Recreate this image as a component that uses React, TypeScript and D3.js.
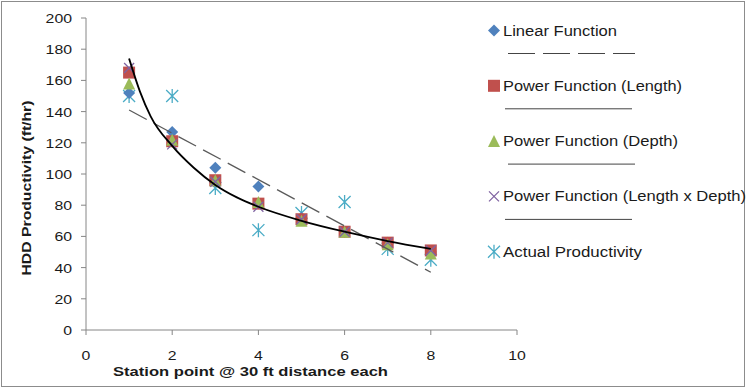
import React from "react";
import * as d3 from "d3";

const stations = [1, 2, 3, 4, 5, 6, 7, 8];
const linearFn = [152, 127, 104, 92, 72, 63, 56, 50];
const powerLength = [165, 121, 96, 81, 71, 63, 56, 51];
const powerDepth = [158, 122, 96, 82, 70, 63, 55, 49];
const powerLxD = [168, 119, 95, 79, 71, 63, 56, 51];
const actual = [150, 150, 91, 64, 75, 82, 52, 45];

const linearTrendX = [1, 8];
const linearTrendY = [141, 37];
const powerTrendX = [1, 1.25, 1.5, 2, 2.5, 3, 3.5, 4, 5, 6, 7, 8];
const powerTrendY = [174, 153, 137, 118, 104, 93, 85, 79, 70, 63, 57, 52];

const xTicks = [0, 2, 4, 6, 8, 10];
const yTicks = [0, 20, 40, 60, 80, 100, 120, 140, 160, 180, 200];

const legendItems = [
  { label: "Linear Function", marker: "diamond", line: "dash", w: 114 },
  { label: "Power Function (Length)", marker: "square", line: "solid", w: 179 },
  { label: "Power Function (Depth)", marker: "triangle", line: "solid2", w: 175 },
  { label: "Power Function (Length x Depth)", marker: "cross", line: "solid", w: 243 },
  { label: "Actual Productivity", marker: "star", line: "", w: 139 },
];

const C = {
  blue: "#4F81BD",
  red: "#C0504D",
  green: "#9BBB59",
  purple: "#8064A2",
  cyan: "#4BACC6",
  axis: "#868686",
};

const FONT = "Liberation Sans, Arial, Helvetica, sans-serif";

function Marker({ type, x, y }: { type: string; x: number; y: number }) {
  if (type === "diamond") {
    const s = 6;
    return <path d={`M${x},${y - s}L${x + s},${y}L${x},${y + s}L${x - s},${y}Z`} fill={C.blue} />;
  }
  if (type === "square") {
    const s = 6;
    return <rect x={x - s} y={y - s} width={2 * s} height={2 * s} fill={C.red} />;
  }
  if (type === "triangle") {
    const s = 6;
    return <path d={`M${x},${y - s}L${x + s},${y + s}L${x - s},${y + s}Z`} fill={C.green} />;
  }
  if (type === "cross") {
    const s = 5;
    return (
      <path
        d={`M${x - s},${y - s}L${x + s},${y + s}M${x - s},${y + s}L${x + s},${y - s}`}
        stroke={C.purple}
        strokeWidth={1.3}
        fill="none"
      />
    );
  }
  const s = 6;
  return (
    <path
      d={`M${x - s},${y - s}L${x + s},${y + s}M${x - s},${y + s}L${x + s},${y - s}M${x},${y - s - 1}L${x},${y + s + 1}`}
      stroke={C.cyan}
      strokeWidth={1.3}
      fill="none"
    />
  );
}

export default function App() {
  const x = d3.scaleLinear().domain([0, 10]).range([86, 517]);
  const y = d3.scaleLinear().domain([0, 200]).range([330, 18]);

  const trendLine = d3
    .line<number>()
    .x((d, i) => x(linearTrendX[i]))
    .y((d) => y(d));
  const powerLine = d3
    .line<number>()
    .x((d, i) => x(powerTrendX[i]))
    .y((d) => y(d))
    .curve(d3.curveMonotoneX);

  const series = [
    { data: actual, marker: "star" },
    { data: linearFn, marker: "diamond" },
    { data: powerLength, marker: "square" },
    { data: powerDepth, marker: "triangle" },
    { data: powerLxD, marker: "cross" },
  ];

  const digitW = 8.8;

  return (
    <svg
      width={746}
      height={389}
      style={{ position: "absolute", left: 0, top: 0, background: "#fff" }}
      fontFamily={FONT}
    >
      <rect x={1.5} y={1.5} width={743} height={385} fill="#fff" stroke="#8c8c8c" strokeWidth={1} />

      {/* axes */}
      <line x1={x(0)} x2={x(0)} y1={y(200)} y2={y(0)} stroke={C.axis} strokeWidth={1} />
      <line x1={x(0)} x2={x(10)} y1={y(0)} y2={y(0)} stroke={C.axis} strokeWidth={1} />
      {yTicks.map((t) => (
        <g key={"y" + t}>
          <line x1={x(0) - 5} x2={x(0)} y1={y(t)} y2={y(t)} stroke={C.axis} />
          <text
            x={72}
            y={y(t) + 5}
            textAnchor="end"
            fontSize={13.5}
            fill="#1a1a1a"
            textLength={String(t).length * digitW}
            lengthAdjust="spacingAndGlyphs"
          >
            {t}
          </text>
        </g>
      ))}
      {xTicks.map((t) => (
        <g key={"x" + t}>
          <line x1={x(t)} x2={x(t)} y1={y(0)} y2={y(0) + 5} stroke={C.axis} />
          <text
            x={x(t)}
            y={360}
            textAnchor="middle"
            fontSize={13.5}
            fill="#1a1a1a"
            textLength={String(t).length * digitW}
            lengthAdjust="spacingAndGlyphs"
          >
            {t}
          </text>
        </g>
      ))}

      <text
        transform={`translate(31,${188}) rotate(-90)`}
        textAnchor="middle"
        fontSize={13.5}
        fontWeight="bold"
        fill="#1a1a1a"
        textLength={175}
        lengthAdjust="spacingAndGlyphs"
      >
        HDD Productivity (ft/hr)
      </text>
      <text
        x={113}
        y={376}
        fontSize={13.5}
        fontWeight="bold"
        fill="#1a1a1a"
        textLength={275}
        lengthAdjust="spacingAndGlyphs"
      >
        Station point @ 30 ft distance each
      </text>

      {/* markers */}
      {series.map((s) =>
        s.data.map((v, i) => <Marker key={s.marker + i} type={s.marker} x={x(stations[i])} y={y(v)} />)
      )}

      {/* trend lines */}
      <path d={trendLine(linearTrendY) || ""} stroke="#5a5a5a" strokeWidth={1.3} strokeDasharray="20,8" fill="none" />
      <path d={powerLine(powerTrendY) || ""} stroke="#000" strokeWidth={1.8} fill="none" />

      {/* legend */}
      {legendItems.map((it, i) => {
        const ty = 30.5 + i * 55.3;
        return (
          <g key={it.label}>
            <Marker type={it.marker} x={494} y={ty} />
            <text
              x={503}
              y={ty + 5}
              fontSize={14}
              fill="#1a1a1a"
              textLength={it.w}
              lengthAdjust="spacingAndGlyphs"
            >
              {it.label}
            </text>
            {it.line === "dash" && (
              <line x1={508} x2={635} y1={ty + 23} y2={ty + 23} stroke="#444" strokeWidth={1} strokeDasharray="27,8" />
            )}
            {it.line === "solid" && <line x1={505} x2={632} y1={ty + 23} y2={ty + 23} stroke="#444" strokeWidth={1} />}
            {it.line === "solid2" && <line x1={508} x2={635} y1={ty + 23} y2={ty + 23} stroke="#444" strokeWidth={1} />}
          </g>
        );
      })}
    </svg>
  );
}
